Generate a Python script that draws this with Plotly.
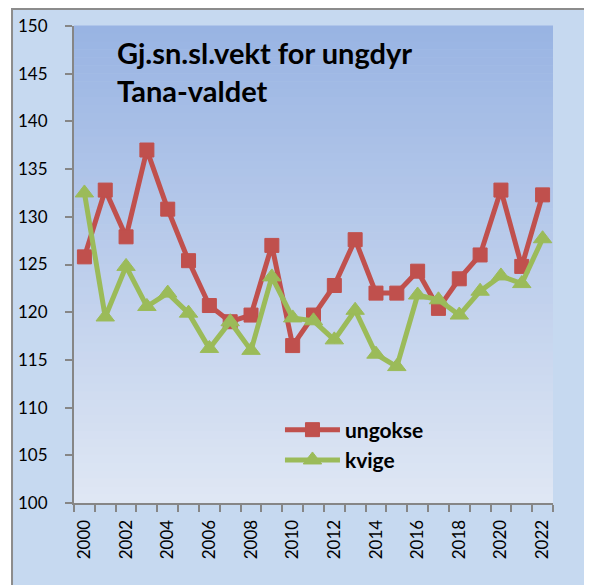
import plotly.graph_objects as go

years = list(range(2000, 2023))
ungokse = [125.8, 132.8, 127.9, 137.0, 130.8, 125.4, 120.7, 119.0, 119.7, 127.0, 116.5,
           119.7, 122.8, 127.6, 122.0, 122.0, 124.3, 120.4, 123.5, 126.0, 132.8, 124.8, 132.3]
kvige = [132.5, 119.5, 124.8, 120.6, 122.0, 119.9, 116.2, 119.0, 116.0, 123.7, 119.4,
         119.1, 117.1, 120.2, 115.6, 114.3, 121.8, 121.3, 119.7, 122.2, 123.8, 123.0, 127.7]
year_labels = [str(y) for y in years if y % 2 == 0]

red = "#c0504d"
green = "#9bbb59"
font = "Lato"

fig = go.Figure()
fig.add_trace(go.Scatter(x=years, y=ungokse, name="ungokse", mode="lines+markers",
                         line=dict(color=red, width=5),
                         marker=dict(symbol="square", size=14, color=red,
                                     line=dict(color=red, width=1))))
fig.add_trace(go.Scatter(x=years, y=kvige, name="kvige", mode="lines+markers",
                         line=dict(color=green, width=5),
                         marker=dict(symbol="triangle-up", size=16, color=green,
                                     line=dict(color=green, width=1))))

# outer chart frame
shapes = [dict(type="rect", xref="paper", yref="paper", layer="below",
               x0=-0.1294, x1=1.2, y0=-0.3, y1=1.0356,
               fillcolor="#c6d9f0", line=dict(color="#8c8c8c", width=2))]
# vertical gradient inside plot area
n = 60
top = (153, 180, 227)
bot = (223, 231, 244)
for i in range(n):
    t = i / (n - 1)
    c = tuple(round(top[k] + (bot[k] - top[k]) * t) for k in range(3))
    shapes.append(dict(type="rect", xref="x domain", yref="y domain", layer="below",
                       x0=0, x1=1, y0=1 - (i + 1) / n, y1=1 - i / n + 0.001,
                       fillcolor="rgb(%d,%d,%d)" % c, line=dict(width=0)))

fig.update_layout(
    width=584, height=577,
    margin=dict(l=66, r=39, t=18, b=82),
    paper_bgcolor="white",
    plot_bgcolor="rgba(0,0,0,0)",
    font=dict(family=font, size=17, color="black"),
    shapes=shapes,
    showlegend=True,
    legend=dict(x=0.43, y=0.196, xanchor="left", yanchor="top",
                bgcolor="rgba(0,0,0,0)", itemwidth=55,
                font=dict(family=font, size=21, weight="bold"),
                tracegroupgap=0),
    annotations=[dict(text="Gj.sn.sl.vekt for ungdyr<br>Tana-valdet",
                      xref="paper", yref="paper", x=0.085, y=0.985,
                      xanchor="left", yanchor="top", align="left", showarrow=False,
                      font=dict(family=font, size=29, weight="bold", color="black"))],
)
fig.update_xaxes(range=[1999.5, 2022.5], tickmode="array",
                 tickvals=[y for y in years if y % 2 == 0], ticktext=year_labels,
                 tickangle=-90, ticks="outside", ticklen=0, showgrid=False,
                 showline=True, linecolor="#868686", linewidth=2,
                 ticklabelstandoff=8, automargin=False,
                 minor=dict(tickmode="linear", tick0=1999.5, dtick=1, ticks="outside",
                            ticklen=7, tickcolor="#868686", tickwidth=2, showgrid=False),
                 zeroline=False)
fig.update_yaxes(range=[100, 150], dtick=5, ticks="outside", ticklen=7,
                 tickcolor="#868686", tickwidth=2, showgrid=False,
                 showline=True, linecolor="#868686", linewidth=2,
                 ticklabelstandoff=14, zeroline=False, automargin=False)

fig.write_html("out.html")
